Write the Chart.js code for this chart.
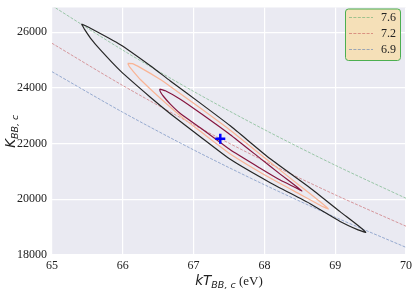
<!DOCTYPE html>
<html>
<head>
<meta charset="utf-8">
<script src="https://cdn.jsdelivr.net/npm/chart.js@4.4.1/dist/chart.umd.min.js"></script>
<style>
  html, body { margin: 0; padding: 0; background: #fff; }
  canvas { display: block; }
</style>
</head>
<body>
<canvas id="chart" width="415" height="289"></canvas>
<script>
// axis ticks
const xTicks = [65, 66, 67, 68, 69, 70];
const yTicks = [18000, 20000, 22000, 24000, 26000];

// kT grid for the guide curves (eV)
const tempGrid = [65, 66, 67, 68, 69, 70];
const norm76 = [26950, 25354, 23873, 22500, 21223, 20036];
const norm72 = [25600, 24084, 22678, 21373, 20161, 19033];
const norm69 = [24580, 23124, 21774, 20522, 19357, 18274];
const guideLabels = ['7.6', '7.2', '6.9'];

// confidence contours (closed loops)
const outerT = [65.416, 65.543, 65.966, 66.389, 66.671, 67.094, 67.518, 68.082, 68.646, 69.069, 69.323, 69.432,
  69.323, 69.069, 68.646, 68.082, 67.518, 67.094, 66.671, 66.389, 65.966, 65.684, 65.543, 65.458, 65.416];
const outerK = [26294, 26142, 25551, 24797, 24248, 23452, 22637, 21452, 20407, 19558, 19062, 18814,
  18903, 19204, 19841, 20595, 21434, 22248, 23073, 23664, 24609, 25363, 25788, 26107, 26294];

const midT = [66.069, 66.135, 66.248, 66.530, 66.671, 67.094, 67.518, 68.082, 68.505, 68.787, 68.904,
  68.787, 68.505, 68.082, 67.518, 67.094, 66.883, 66.530, 66.248, 66.150, 66.093, 66.069];
const midK = [24878, 24868, 24726, 24301, 24053, 23275, 22478, 21328, 20478, 19912, 19653,
  19788, 20177, 20761, 21629, 22443, 22850, 23629, 24301, 24584, 24761, 24878];

const innerT = [66.520, 66.601, 66.812, 67.094, 67.518, 67.941, 68.223, 68.434, 68.529,
  68.434, 68.223, 67.941, 67.518, 67.094, 66.812, 66.671, 66.573, 66.530, 66.520];
const innerK = [23958, 23894, 23593, 23098, 22319, 21469, 20903, 20496, 20301,
  20425, 20690, 21115, 21777, 22567, 23080, 23416, 23699, 23859, 23958];

// best fit
const bestT = [67.377];
const bestK = [22177];

const toPoints = (xs, ys) => xs.map((x, i) => ({ x: x, y: ys[i] }));

const serif = '"Liberation Serif", "Times New Roman", serif';
const sans = '"DejaVu Sans", sans-serif';

function guide(label, ys, color) {
  return {
    label: label,
    data: toPoints(tempGrid, ys),
    showLine: true,
    borderColor: color,
    borderWidth: 0.9,
    borderDash: [3, 1.4],
    pointRadius: 0,
    tension: 0.3,
    order: 5,
    isGuide: true
  };
}

function contour(xs, ys, color) {
  return {
    data: toPoints(xs, ys),
    showLine: true,
    borderColor: color,
    borderWidth: 1.2,
    pointRadius: 0,
    tension: 0.15,
    order: 2
  };
}

// no extra room for half tick labels at the ends of the axes
function fixScale(size) {
  return s => {
    if (s.isHorizontal()) s.height = size; else s.width = size;
    s.paddingTop = 0; s.paddingBottom = 0; s.paddingLeft = 0; s.paddingRight = 0;
  };
}

// plot background
const bgPlugin = {
  id: 'bg',
  beforeDraw(chart) {
    const { ctx, chartArea: a } = chart;
    ctx.save();
    ctx.fillStyle = '#eaeaf2';
    ctx.fillRect(a.left, a.top, a.right - a.left, a.bottom - a.top);
    ctx.restore();
  }
};

// axis titles with subscripts + boxed legend
const decorPlugin = {
  id: 'decor',
  afterDraw(chart) {
    const { ctx, chartArea: a } = chart;
    ctx.save();
    ctx.fillStyle = '#222';
    ctx.textBaseline = 'alphabetic';
    ctx.textAlign = 'left';

    const mainFont = 'italic 13.5px ' + sans;
    const subFont = 'italic 9.5px ' + sans;
    const unitFont = '13px ' + serif;

    // x title: kT_{BB,c} (eV)
    ctx.font = mainFont; const w1 = ctx.measureText('kT').width;
    ctx.font = subFont; const w2 = ctx.measureText('BB, c').width;
    ctx.font = unitFont; const w3 = ctx.measureText(' (eV)').width;
    let x = (a.left + a.right) / 2 - (w1 + w2 + w3) / 2;
    const base = 285;
    ctx.font = mainFont; ctx.fillText('kT', x, base); x += w1;
    ctx.font = subFont; ctx.fillText('BB, c', x, base + 3); x += w2;
    ctx.font = unitFont; ctx.fillText(' (eV)', x, base);

    // y title: K_{BB,c}
    ctx.save();
    ctx.translate(15, (a.top + a.bottom) / 2);
    ctx.rotate(-Math.PI / 2);
    ctx.font = mainFont; const k1 = ctx.measureText('K').width;
    ctx.font = subFont; const k2 = ctx.measureText('BB, c').width;
    let yx = -(k1 + k2) / 2;
    ctx.font = mainFont; ctx.fillText('K', yx, 0); yx += k1;
    ctx.font = subFont; ctx.fillText('BB, c', yx, 3);
    ctx.restore();

    // legend box
    const bx = 345.5, by = 9, bw = 55, bh = 51.5;
    ctx.beginPath();
    ctx.roundRect(bx, by, bw, bh, 3);
    ctx.fillStyle = 'rgba(245, 222, 179, 0.92)';
    ctx.fill();
    ctx.strokeStyle = '#4caf50';
    ctx.lineWidth = 1;
    ctx.stroke();

    const guides = chart.data.datasets.filter(d => d.isGuide);
    guides.forEach((d, i) => {
      const ly = 17.5 + i * 16;
      ctx.beginPath();
      ctx.setLineDash(d.borderDash);
      ctx.strokeStyle = d.borderColor;
      ctx.lineWidth = d.borderWidth;
      ctx.moveTo(349, ly);
      ctx.lineTo(373, ly);
      ctx.stroke();
      ctx.setLineDash([]);
      ctx.fillStyle = '#222';
      ctx.font = '12px ' + serif;
      ctx.textAlign = 'right';
      ctx.textBaseline = 'middle';
      ctx.fillText(d.label, 396, ly + 0.5);
    });
    ctx.restore();
  }
};

new Chart(document.getElementById('chart'), {
  type: 'scatter',
  data: {
    datasets: [
      guide(guideLabels[0], norm76, 'rgba(85, 168, 104, 0.6)'),
      guide(guideLabels[1], norm72, 'rgba(196, 78, 82, 0.6)'),
      guide(guideLabels[2], norm69, 'rgba(76, 114, 176, 0.6)'),
      contour(outerT, outerK, '#262626'),
      contour(midT, midK, '#f9b495'),
      contour(innerT, innerK, '#86163f'),
      {
        data: toPoints(bestT, bestK),
        pointStyle: 'cross',
        pointRadius: 5,
        borderWidth: 2.5,
        borderColor: '#0000ff',
        backgroundColor: '#0000ff',
        order: 0
      }
    ]
  },
  options: {
    responsive: false,
    animation: false,
    devicePixelRatio: 1,
    layout: { padding: { top: 4, right: 9, left: 0, bottom: 0 } },
    plugins: {
      legend: { display: false },
      tooltip: { enabled: false }
    },
    scales: {
      x: {
        type: 'linear',
        min: 65,
        max: 70,
        afterBuildTicks: s => { s.ticks = xTicks.map(v => ({ value: v })); },
        ticks: { color: '#222', font: { family: serif, size: 12 }, padding: 4, callback: v => String(v) },
        grid: { color: '#ffffff', lineWidth: 1.2, drawTicks: false },
        border: { display: false },
        afterFit: fixScale(34)
      },
      y: {
        min: 18000,
        max: 26885,
        afterBuildTicks: s => { s.ticks = yTicks.map(v => ({ value: v })); },
        ticks: { color: '#222', font: { family: serif, size: 12 }, padding: 5, callback: v => String(v) },
        grid: { color: '#ffffff', lineWidth: 1.2, drawTicks: false },
        border: { display: false },
        afterFit: fixScale(52)
      }
    }
  },
  plugins: [bgPlugin, decorPlugin]
});
</script>
</body>
</html>
